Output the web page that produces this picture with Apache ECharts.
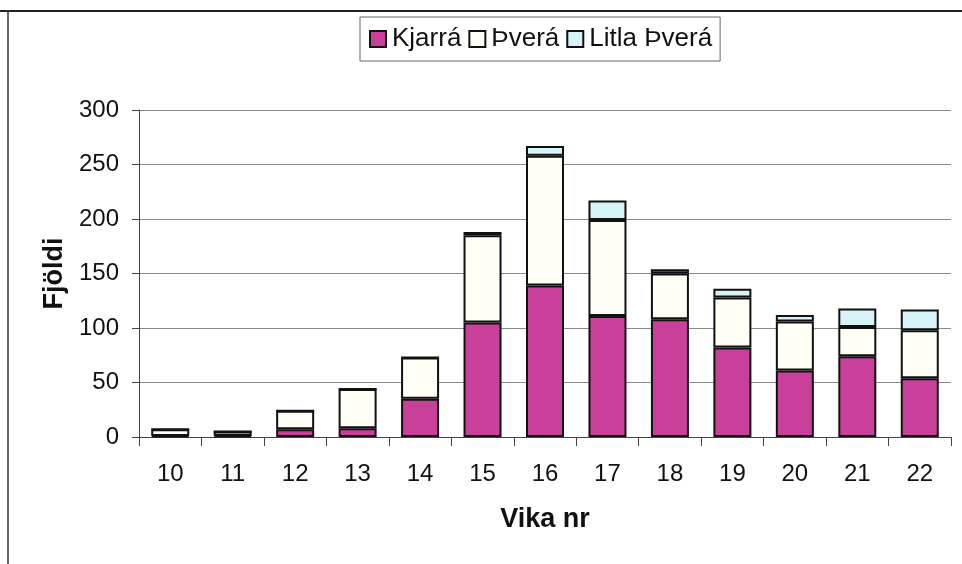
<!DOCTYPE html>
<html><head><meta charset="utf-8">
<script src="https://cdn.jsdelivr.net/npm/echarts@6/dist/echarts.min.js"></script>
<style>html,body{margin:0;padding:0;background:#fff}#c{width:962px;height:564px}</style>
</head><body><div id="c"></div>
<script>
const categories = ['10','11','12','13','14','15','16','17','18','19','20','21','22'];
const kjarra = [1, 1, 7, 8, 35, 105, 139, 111, 108, 82, 61, 74, 54];
const thvera = [6, 4, 17, 36, 38, 80, 119, 88, 42, 46, 45, 27, 44];
const litlaThvera = [0, 0, 0, 0, 0, 3, 9, 18, 4, 8, 6, 17, 19];
const yTicks = [0, 50, 100, 150, 200, 250, 300];

const FONT = '"Liberation Sans", Arial, sans-serif';
const chart = echarts.init(document.getElementById('c'), null, {renderer: 'canvas'});
const border = {borderColor: '#111', borderWidth: 2};
chart.setOption({
  animation: false,
  backgroundColor: '#fff',
  textStyle: {fontFamily: FONT},
  graphic: [
    {type: 'line', shape: {x1: 0, y1: 11, x2: 962, y2: 11}, style: {stroke: '#222', lineWidth: 2}},
    {type: 'line', shape: {x1: 8, y1: 11, x2: 8, y2: 564}, style: {stroke: '#333', lineWidth: 1.5}}
  ],
  legend: {
    left: 360, top: 17,
    padding: [9, 8, 9, 9],
    backgroundColor: '#fff', borderColor: '#666', borderWidth: 1,
    itemWidth: 16, itemHeight: 16, itemGap: 7,
    icon: 'rect',
    textStyle: {fontSize: 26, color: '#111', fontFamily: FONT, padding: [0, 0, 0, 1]},
    data: ['Kjarrá', 'Þverá', 'Litla Þverá']
  },
  grid: {left: 139, right: 11, top: 110, bottom: 127, containLabel: false},
  xAxis: {
    type: 'category', data: categories,
    name: 'Vika nr', nameLocation: 'middle', nameGap: 69,
    nameTextStyle: {fontSize: 27, fontWeight: 'bold', color: '#111', fontFamily: FONT},
    axisLine: {lineStyle: {color: '#444', width: 1}},
    axisTick: {show: true, length: 9, lineStyle: {color: '#444'}},
    axisLabel: {fontSize: 24, color: '#111', margin: 25, fontFamily: FONT}
  },
  yAxis: {
    type: 'value', min: 0, max: 300, interval: 50,
    name: 'Fjöldi', nameLocation: 'middle', nameGap: 70,
    nameTextStyle: {fontSize: 27, fontWeight: 'bold', color: '#111', fontFamily: FONT},
    axisLine: {show: true, lineStyle: {color: '#444', width: 1}},
    axisTick: {show: true, length: 7, lineStyle: {color: '#444'}},
    axisLabel: {fontSize: 24, color: '#111', margin: 20, fontFamily: FONT,
      formatter: v => yTicks.includes(v) ? String(v) : ''},
    splitLine: {lineStyle: {color: '#8a8a8a', width: 1}}
  },
  series: [
    {name: 'Kjarrá', type: 'bar', stack: 's', data: kjarra, barWidth: 38,
      itemStyle: Object.assign({color: '#c8409a'}, border)},
    {name: 'Þverá', type: 'bar', stack: 's', data: thvera, barWidth: 38,
      itemStyle: Object.assign({color: '#fffff6'}, border)},
    {name: 'Litla Þverá', type: 'bar', stack: 's', data: litlaThvera, barWidth: 38,
      itemStyle: Object.assign({color: '#d6f3f8'}, border)}
  ]
});
</script></body></html>
